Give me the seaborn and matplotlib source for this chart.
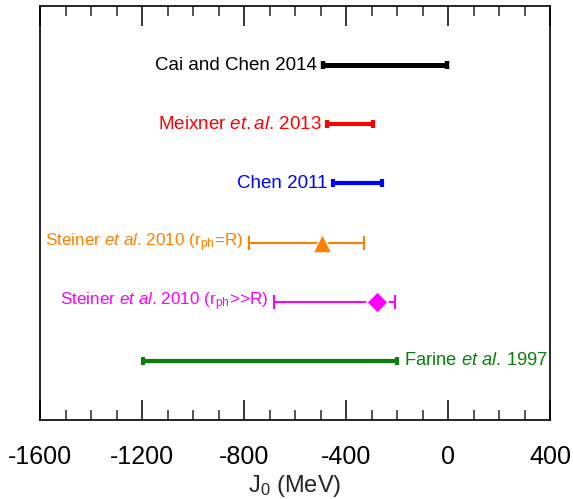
import matplotlib
matplotlib.use("Agg")
import matplotlib.pyplot as plt
from matplotlib.ticker import MultipleLocator
import seaborn as sns
import pandas as pd

# ---- data ----
labels = ["Cai and Chen 2014",
          r"Meixner $\it{et.al}$. 2013",
          "Chen 2011",
          r"Steiner $\it{et\ al}$. 2010 (r$_{\rm ph}$=R)",
          r"Steiner $\it{et\ al}$. 2010 (r$_{\rm ph}$>>R)",
          r"Farine $\it{et\ al}$. 1997"]
low = [-492, -475, -450, -782, -684, -1196]
high = [-4, -295, -258, -328, -207, -199]
center = [None, None, None, -496, -277, None]
colors = ["#000000", "#ff0000", "#0000ff", "#ff8000", "#ff00ff", "#0a800a"]
markers = [None, None, None, "^", "D", None]
label_side = ["left", "left", "left", "left", "left", "right"]
xticks = [-1600, -1200, -800, -400, 0, 400]

sns.set_theme(style="ticks")
plt.rcParams["font.family"] = ["Liberation Sans", "DejaVu Sans"]
plt.rcParams["mathtext.fontset"] = "custom"
plt.rcParams["mathtext.rm"] = "Liberation Sans"
plt.rcParams["mathtext.it"] = "Liberation Sans:italic"

fig = plt.figure(figsize=(5.73, 4.99), dpi=100)
ax = fig.add_axes([40 / 573, 1 - 420 / 499, 510 / 573, 414 / 499])

thick = [3.6, 3.0, 3.0, 1.5, 1.5, 3.0]
capw = [3.2, 3.0, 3.0, 5.0, 5.0, 3.0]
capt = [3.2, 3.0, 3.0, 1.5, 1.5, 3.0]
fsizes = [13.5, 13.5, 13.5, 12.3, 12.3, 13.2]
for i, (lo, hi, c) in enumerate(zip(low, high, colors)):
    y = i + 1
    mid = (lo + hi) / 2
    eb = ax.errorbar([mid], [y], xerr=[[mid - lo], [hi - mid]], fmt="none",
                     ecolor=c, elinewidth=thick[i], capsize=capw[i], capthick=capt[i],
                     zorder=2)
    for cl in eb[1]:
        cl.set_solid_capstyle("round")
    if center[i] is not None:
        df = pd.DataFrame({"x": [center[i]], "y": [y]})
        sns.scatterplot(data=df, x="x", y="y", marker=markers[i], color=c,
                        s=190 if markers[i] == "^" else 120, edgecolor="white",
                        linewidth=1.2, ax=ax, zorder=3, legend=False)
    if label_side[i] == "left":
        ax.annotate(labels[i], xy=(lo, y), xytext=(-4, 0), textcoords="offset points",
                    ha="right", va="center", color=c, fontsize=fsizes[i])
    else:
        ax.annotate(labels[i], xy=(hi, y), xytext=(5, 0), textcoords="offset points",
                    ha="left", va="center", color=c, fontsize=fsizes[i])

ax.set_xlim(-1600, 400)
ax.set_ylim(7, 0)
ax.set_xticks(xticks)
ax.set_xticklabels([str(t) for t in xticks])
ax.xaxis.set_minor_locator(MultipleLocator(100))
ax.set_yticks([])
ax.set_xlabel(r"J$_0$ (MeV)", fontsize=17)
ax.xaxis.set_label_coords(0.5, -0.128)
ax.set_ylabel("")
ax.tick_params(axis="x", which="major", direction="in", length=14.5, width=1.1,
               top=True, bottom=True, labelsize=18, pad=18, colors="black")
ax.tick_params(axis="x", which="minor", direction="in", length=7, width=1.1,
               top=True, bottom=True)
for s in ax.spines.values():
    s.set_visible(True)
    s.set_linewidth(1.2)
    s.set_color("black")

fig.savefig("out.png", dpi=100, facecolor="white")
